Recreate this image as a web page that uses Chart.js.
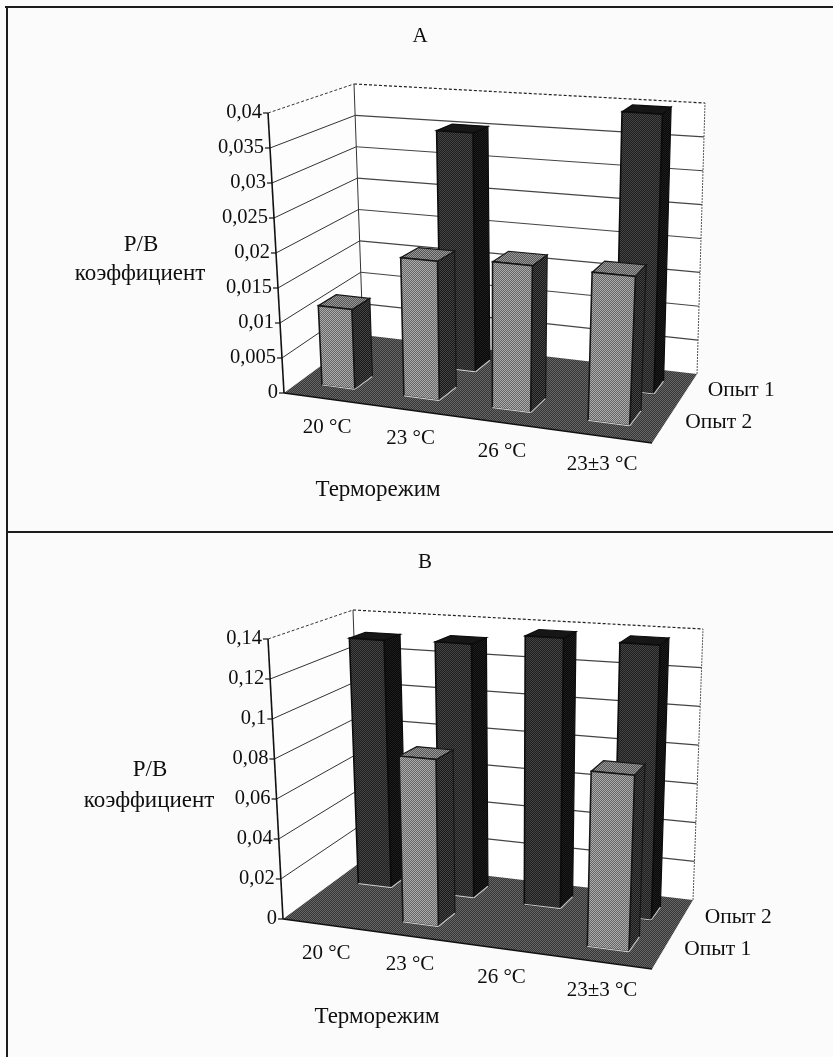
<!DOCTYPE html>
<html>
<head>
<meta charset="utf-8">
<script src="https://cdn.jsdelivr.net/npm/chart.js@4"></script>
<style>
    html, body { margin: 0; background: #fbfbfb; }
    #wrap { position: relative; width: 833px; height: 1057px; overflow: hidden; }
    canvas { position: absolute; left: 0; }
    #chartA { top: 0; }
    #chartB { top: 526px; }
    .line { position: absolute; background: #1c1c1c; }
</style>
</head>
<body>
<div id="wrap">
    <canvas id="chartA"></canvas>
    <canvas id="chartB"></canvas>
    <div class="line" style="left:5px; top:6px; width:828px; height:2px"></div>
    <div class="line" style="left:6px; top:6px; width:2px; height:1051px"></div>
    <div class="line" style="left:6px; top:531px; width:827px; height:2px"></div>
</div>
<script>
const categorias = ['20 °C', '23 °C', '26 °C', '23±3 °C'];

// Панель A
const opyt1A = [0, 0.0355, 0, 0.04];
const opyt2A = [0.0115, 0.0197, 0.0204, 0.0203];
const valoresEjeA = [0, 0.005, 0.01, 0.015, 0.02, 0.025, 0.03, 0.035, 0.04];
const etiquetasEjeA = ['0', '0,005', '0,01', '0,015', '0,02', '0,025', '0,03', '0,035', '0,04'];

// Панель B
const opyt1B = [0, 0.0827, 0, 0.084];
const opyt2B = [0.131, 0.132, 0.138, 0.1375];
const valoresEjeB = [0, 0.02, 0.04, 0.06, 0.08, 0.1, 0.12, 0.14];
const etiquetasEjeB = ['0', '0,02', '0,04', '0,06', '0,08', '0,1', '0,12', '0,14'];

const FILA_FRENTE = [0.19, 0.41];  // передний ряд по глубине
const FILA_FONDO = [0.66, 0.85];   // задний ряд по глубине

function dither(a, b) {
    const c = document.createElement('canvas');
    c.width = c.height = 2;
    const g = c.getContext('2d');
    g.fillStyle = a;
    g.fillRect(0, 0, 2, 2);
    g.fillStyle = b;
    g.fillRect(0, 0, 1, 1);
    g.fillRect(1, 1, 1, 1);
    return g.createPattern(c, 'repeat');
}

// Куб сцены: углы в пикселях холста, u вдоль категорий, v по высоте, w в глубину
function proyector(c) {
    return (u, v, w) => {
        const k = 1.2 - 0.15 * w;   // сжатие по оси категорий, к задней стенке меньше
        const p = u / (k + (1 - k) * u);
        const mix = (i) => {
            const bajoF = c.fbl[i] + (c.fbr[i] - c.fbl[i]) * p;
            const bajoB = c.bbl[i] + (c.bbr[i] - c.bbl[i]) * p;
            const altoF = c.ftl[i] + (c.ftr[i] - c.ftl[i]) * p;
            const altoB = c.btl[i] + (c.btr[i] - c.btl[i]) * p;
            const bajo = bajoF + (bajoB - bajoF) * w;
            const alto = altoF + (altoB - altoF) * w;
            return bajo + (alto - bajo) * v;
        };
        return [mix(0), mix(1)];
    };
}

function poly(ctx, pts, fill, stroke, lw) {
    ctx.beginPath();
    pts.forEach((p, i) => i ? ctx.lineTo(p[0], p[1]) : ctx.moveTo(p[0], p[1]));
    ctx.closePath();
    if (fill) { ctx.fillStyle = fill; ctx.fill(); }
    if (stroke) { ctx.strokeStyle = stroke; ctx.lineWidth = lw || 1; ctx.stroke(); }
}

function seg(ctx, a, b, color, lw, dash) {
    ctx.beginPath();
    ctx.setLineDash(dash || []);
    ctx.moveTo(a[0], a[1]);
    ctx.lineTo(b[0], b[1]);
    ctx.strokeStyle = color;
    ctx.lineWidth = lw;
    ctx.stroke();
    ctx.setLineDash([]);
}

function texto(ctx, t, x, y, size, align) {
    ctx.font = size + 'px "Liberation Serif"';
    ctx.fillStyle = '#0e0e0e';
    ctx.textAlign = align || 'center';
    ctx.textBaseline = 'middle';
    ctx.fillText(t, x, y);
}

const escena3d = {
    id: 'escena3d',
    beforeDatasetsDraw(chart) {
        const o = chart.options.plugins.escena3d;
        const ctx = chart.ctx;
        const P = proyector(o.cubo);
        const area = chart.chartArea;
        const y = chart.scales.y;
        const altura = (val) => (area.bottom - y.getPixelForValue(val)) / area.height;

        // стенки и пол
        poly(ctx, [P(0, 0, 0), P(0, 1, 0), P(0, 1, 1), P(0, 0, 1)], '#fdfdfd');
        poly(ctx, [P(0, 0, 1), P(0, 1, 1), P(1, 1, 1), P(1, 0, 1)], '#ffffff');
        poly(ctx, [P(0, 0, 0), P(1, 0, 0), P(1, 0, 1), P(0, 0, 1)], dither('#363636', '#666666'));

        o.valores.forEach((val, i) => {
            const v = altura(val);
            if (i > 0) {
                const ultimo = i === o.valores.length - 1;
                seg(ctx, P(0, v, 0), P(0, v, 1), '#333', 1, ultimo ? [3, 2] : null);
                seg(ctx, P(0, v, 1), P(1, v, 1), ultimo ? '#222' : '#444', 1.2, ultimo ? [3, 2] : null);
            }
            const t = P(0, v, 0);
            seg(ctx, t, [t[0] - 5, t[1]], '#111', 1.2);
            texto(ctx, o.etiquetas[i], t[0] - 6, t[1], 20.5, 'right');
        });
        seg(ctx, P(0, 0, 0), P(0, 1, 0), '#111', 1.6);
        seg(ctx, P(0, 0, 1), P(0, 1, 1), '#333', 1);
        seg(ctx, P(1, 0, 1), P(1, 1, 1), '#555', 1, [2, 1]);
        seg(ctx, P(0, 0, 0), P(1, 0, 0), '#111', 1.4);

        // столбцы: сначала задний ряд, потом передний
        const filas = [
            { idx: 0, w: FILA_FONDO, cara: dither('#1e1e1e', '#444444'), lado: dither('#080808', '#1e1e1e'), tapa: '#161616', borde: '#0c0c0c' },
            { idx: 1, w: FILA_FRENTE, cara: dither('#666666', '#acacac'), lado: dither('#181818', '#444444'), tapa: dither('#555', '#999'), borde: '#161616' }
        ];
        filas.forEach(f => {
            chart.getDatasetMeta(f.idx).data.forEach((bar, i) => {
                if (!chart.data.datasets[f.idx].data[i]) return;
                const u0 = (bar.x - bar.width / 2 - area.left) / area.width;
                const u1 = (bar.x + bar.width / 2 - area.left) / area.width;
                const v = (area.bottom - bar.y) / area.height;
                const [w0, w1] = f.w;
                poly(ctx, [P(u1, 0, w0), P(u1, v, w0), P(u1, v, w1), P(u1, 0, w1)], f.lado, f.borde, 1.2);
                poly(ctx, [P(u0, v, w0), P(u1, v, w0), P(u1, v, w1), P(u0, v, w1)], f.tapa, f.borde, 1.2);
                poly(ctx, [P(u0, 0, w0), P(u0, v, w0), P(u1, v, w0), P(u1, 0, w0)], f.cara, f.borde, 1.6);
                seg(ctx, P(u0, 0, w0), P(u1, 0, w0), '#c8c8c8', 1.2);
                seg(ctx, P(u1, 0, w0), P(u1, 0, w1), '#c8c8c8', 1.2);
            });
        });

        // подписи категорий и рядов
        const x = chart.scales.x;
        categorias.forEach((cat, i) => {
            const p = P((x.getPixelForValue(i) - area.left) / area.width, 0, 0);
            texto(ctx, cat, p[0] + 4, p[1] + 29, 21);
        });
        o.series.forEach(s => {
            const p = P(1, 0, s.w);
            texto(ctx, s.texto, p[0] + 22, p[1] + s.dy, 21.5, 'left');
        });

        // заголовки
        texto(ctx, o.titulo, o.tituloPos[0], o.tituloPos[1], 21);
        texto(ctx, 'P/B', o.pb[0], o.pb[1], 23);
        texto(ctx, 'коэффициент', o.coef[0], o.coef[1], 23);
        texto(ctx, 'Терморежим', o.eje[0], o.eje[1], 23);
    }
};

function crearPanel(id, alto, datosFondo, datosFrente, nombres, yMax, valores, etiquetas, extra) {
    const canvas = document.getElementById(id);
    canvas.width = 833;
    canvas.height = alto;
    canvas.style.width = '833px';
    canvas.style.height = alto + 'px';
    return new Chart(canvas, {
        type: 'bar',
        data: {
            labels: categorias,
            datasets: [
                { label: nombres[0], data: datosFondo, backgroundColor: 'transparent' },
                { label: nombres[1], data: datosFrente, backgroundColor: 'transparent' }
            ]
        },
        options: {
            responsive: false,
            animation: false,
            devicePixelRatio: 1,
            layout: { padding: 0 },
            scales: {
                x: { display: false, offset: true },
                y: { display: false, min: 0, max: yMax }
            },
            datasets: { bar: { barPercentage: 0.41, categoryPercentage: 1, grouped: false } },
            plugins: {
                legend: { display: false },
                tooltip: { enabled: false },
                escena3d: { valores, etiquetas, ...extra }
            }
        },
        plugins: [escena3d]
    });
}

crearPanel('chartA', 526, opyt1A, opyt2A, ['Опыт 1', 'Опыт 2'], 0.04, valoresEjeA, etiquetasEjeA, {
    cubo: {
        fbl: [284, 393], fbr: [652, 443], bbl: [363, 335], bbr: [697, 374],
        ftl: [268, 113], ftr: [667, 141], btl: [354, 84], btr: [705, 103]
    },
    series: [{ texto: 'Опыт 1', w: 0.75, dy: -1 }, { texto: 'Опыт 2', w: 0.25, dy: -3 }],
    titulo: 'A', tituloPos: [420, 36],
    pb: [141, 245], coef: [140, 274], eje: [378, 490]
});

// в панели B передний ряд — Опыт 1, задний — Опыт 2
crearPanel('chartB', 531, opyt2B, opyt1B, ['Опыт 2', 'Опыт 1'], 0.14, valoresEjeB, etiquetasEjeB, {
    cubo: {
        fbl: [283, 393], fbr: [652, 443], bbl: [362, 335], bbr: [693, 374],
        ftl: [268, 113], ftr: [664, 141], btl: [353, 84], btr: [703, 103]
    },
    series: [{ texto: 'Опыт 2', w: 0.75, dy: 0 }, { texto: 'Опыт 1', w: 0.25, dy: -2 }],
    titulo: 'B', tituloPos: [425, 36],
    pb: [150, 244], coef: [149, 275], eje: [377, 491]
});
</script>
</body>
</html>
